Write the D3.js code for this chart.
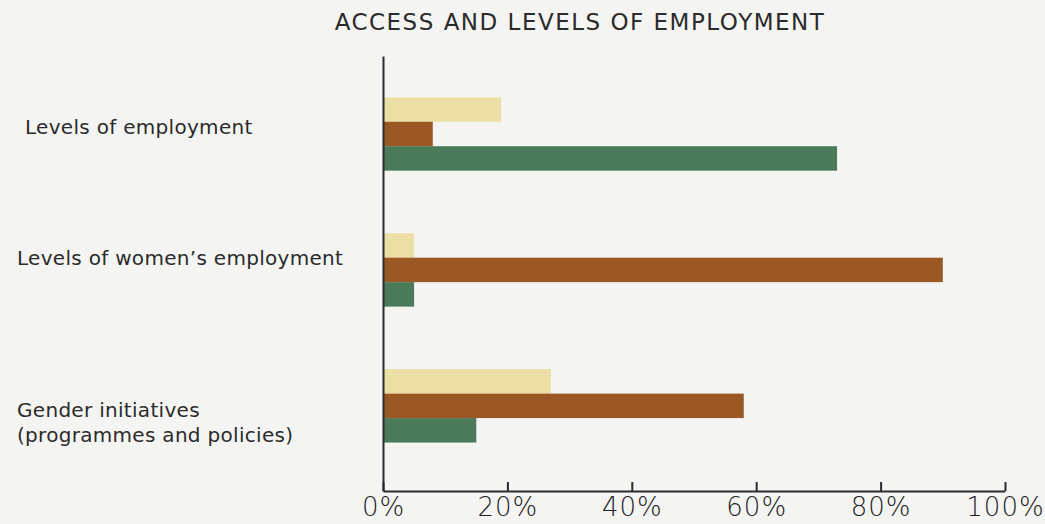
<!DOCTYPE html>
<html>
<head>
<meta charset="utf-8">
<script src="https://cdn.jsdelivr.net/npm/d3@7"></script>
<style>
  html, body { margin: 0; padding: 0; background: #F4F5F2; }
  svg { display: block; }
  text { font-family: "DejaVu Sans", "Noto Sans", sans-serif; fill: #2b2b2b; }
</style>
</head>
<body>
<svg id="chart" width="1045" height="524"></svg>
<script>
// Categories (top to bottom) and the three series, in percent
const categories = ["Levels of employment", "Levels of women’s employment", "Gender initiatives (programmes and policies)"];
const categoryLines = [["Levels of employment"], ["Levels of women’s employment"], ["Gender initiatives", "(programmes and policies)"]];
const seriesKeys = ["s1", "s2", "s3"];
const seriesYellow = [19, 5, 27];
const seriesBrown = [8, 90, 58];
const seriesGreen = [73, 5, 15];
const tickValues = [0, 20, 40, 60, 80, 100];
const tickLabels = ["0%", "20%", "40%", "60%", "80%", "100%"];
const title = "ACCESS AND LEVELS OF EMPLOYMENT";

const colors = { s1: "#ECDFA5", s2: "#9A5824", s3: "#4B7A5A" };

const rows = categories.map((c, i) => ({
  category: c,
  s1: seriesYellow[i],
  s2: seriesBrown[i],
  s3: seriesGreen[i]
}));

const svg = d3.select("#chart");
const plotLeft = 383, plotRight = 1005, plotTop = 56, plotBottom = 491;

const x = d3.scaleLinear().domain([0, 100]).range([plotLeft, plotRight]);
const y = d3.scaleBand().domain(categories).range([plotTop, plotBottom])
  .paddingInner(0.46).paddingOuter(0.33).align(0.46);
const ySub = d3.scaleBand().domain(seriesKeys).range([0, y.bandwidth()]);

// Title
svg.append("text")
  .attr("x", 580).attr("y", 30)
  .attr("text-anchor", "middle")
  .style("font-size", "23px")
  .style("letter-spacing", "1.5px")
  .text(title);

// Bars
const groups = svg.append("g").selectAll("g").data(rows).join("g")
  .attr("transform", d => `translate(0,${y(d.category)})`);
groups.selectAll("rect")
  .data(d => seriesKeys.map(k => ({ key: k, value: d[k] })))
  .join("rect")
  .attr("x", x(0))
  .attr("y", d => ySub(d.key))
  .attr("width", d => x(d.value) - x(0))
  .attr("height", ySub.bandwidth())
  .attr("fill", d => colors[d.key]);

// Vertical axis line
const yAxis = svg.append("g").attr("transform", `translate(${plotLeft},0)`)
  .call(d3.axisLeft(y).tickSize(0).tickFormat(""));
yAxis.select(".domain").attr("stroke", "#2b2b2b").attr("stroke-width", 2);

// Horizontal axis with inward ticks
const xAxis = svg.append("g").attr("transform", `translate(0,${plotBottom})`)
  .call(d3.axisBottom(x).tickValues(tickValues)
    .tickFormat((d, i) => tickLabels[i])
    .tickSizeInner(-9).tickSizeOuter(0).tickPadding(7));
xAxis.select(".domain").attr("stroke", "#2b2b2b").attr("stroke-width", 2);
xAxis.selectAll(".tick line").attr("stroke", "#2b2b2b").attr("stroke-width", 2);
xAxis.selectAll(".tick text")
  .style("font-family", "'DejaVu Sans', sans-serif")
  .style("font-size", "26px").style("font-weight", 200)
  .style("letter-spacing", "1px")
  .style("fill", "#1e1e1e");

// Category labels
const labelX = [25, 17, 17];
const labelBaseline = [134, 265, 417];
categoryLines.forEach((lines, i) => {
  const t = svg.append("text")
    .attr("x", labelX[i]).attr("y", labelBaseline[i])
    .style("font-size", "20px")
    .style("letter-spacing", "0.3px");
  lines.forEach((line, j) => {
    t.append("tspan").attr("x", labelX[i]).attr("dy", j === 0 ? 0 : 25).text(line);
  });
});
</script>
</body>
</html>
